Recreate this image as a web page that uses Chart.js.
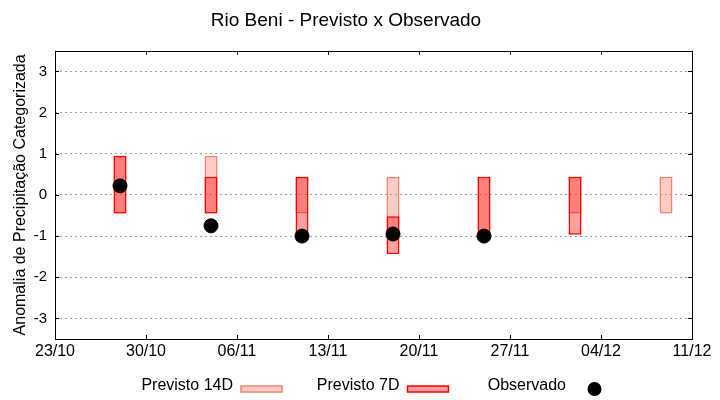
<!DOCTYPE html>
<html>
<head>
<meta charset="utf-8">
<script src="https://cdn.jsdelivr.net/npm/chart.js@4/dist/chart.umd.min.js"></script>
<style>
  body { margin: 0; background: #fff; }
  #wrap { width: 720px; height: 400px; }
</style>
</head>
<body>
<div id="wrap"><canvas id="chuva"></canvas></div>
<script>
const TITLE = 'Rio Beni - Previsto x Observado';
const Y_TITLE = 'Anomalia de Precipitação Categorizada';

const X_TICK_LABELS = ['23/10', '30/10', '06/11', '13/11', '20/11', '27/11', '04/12', '11/12'];
const Y_TICKS = [-3, -2, -1, 0, 1, 2, 3];

const DATES = ['28/10', '04/11', '11/11', '18/11', '25/11', '02/12', '09/12'];
const P14_LOW = [-0.45, -0.45, -0.45, -1, -1, -0.45, -0.45];
const P14_HIGH = [0.95, 0.95, 0.44, 0.44, 0.44, 0.44, 0.44];
const P7_LOW = [-0.45, -0.45, -1, -1.44, -1, -0.97, null];
const P7_HIGH = [0.95, 0.44, 0.44, -0.52, 0.44, 0.44, null];
const OBSERVADO = [0.22, -0.75, -1.0, -0.95, -1.0, null, null];

const FONT = "'Liberation Sans', Arial, sans-serif";
const NARROW = "'Liberation Sans Narrow', 'Liberation Sans', Arial, sans-serif";

// days since the first tick (23/10)
const dayOf = (s) => {
  const [d, m] = s.split('/').map(Number);
  const [d0, m0] = X_TICK_LABELS[0].split('/').map(Number);
  return (Date.UTC(2023, m - 1, d) - Date.UTC(2023, m0 - 1, d0)) / 864e5;
}

const floatBars = (lows, highs) => DATES
  .map((d, i) => lows[i] == null ? null : { x: dayOf(d), y: [lows[i], highs[i]] })
  .filter(p => p);

const points = (vals) => DATES
  .map((d, i) => vals[i] == null ? null : { x: dayOf(d), y: vals[i] })
  .filter(p => p);

// gnuplot style box with inward ticks on all four sides
const framePlugin = {
  id: 'frame',
  afterDatasetsDraw(chart) {
    const { ctx, chartArea: a, scales } = chart;
    const L = 4;
    ctx.save();
    ctx.strokeStyle = '#000';
    ctx.lineWidth = 1;
    ctx.beginPath();
    scales.y.ticks.forEach(t => {
      const y = Math.round(scales.y.getPixelForValue(t.value)) + 0.5;
      ctx.moveTo(a.left, y); ctx.lineTo(a.left + L, y);
      ctx.moveTo(a.right, y); ctx.lineTo(a.right - L, y);
    });
    scales.x.ticks.forEach(t => {
      const x = Math.round(scales.x.getPixelForValue(t.value)) + 0.5;
      ctx.moveTo(x, a.top); ctx.lineTo(x, a.top + L);
      ctx.moveTo(x, a.bottom); ctx.lineTo(x, a.bottom - L);
    });
    ctx.stroke();
    ctx.strokeRect(Math.round(a.left) + 0.5, Math.round(a.top) + 0.5,
      Math.round(a.right - a.left), Math.round(a.bottom - a.top));
    ctx.restore();
  }
}

// key below the plot: text first, sample after it
const keyPlugin = {
  id: 'gnuKey',
  afterDraw(chart) {
    const { ctx, chartArea: a } = chart;
    const items = ['14D', '7D', 'obs'].map(id => chart.data.datasets.find(d => d.id === id));
    const y = a.bottom + 48;
    ctx.save();
    ctx.font = '16px ' + FONT;
    ctx.textAlign = 'right';
    ctx.textBaseline = 'middle';
    items.forEach((ds, i) => {
      const xText = a.left + 178 + i * 166.5;
      ctx.fillStyle = '#000';
      ctx.fillText(ds.label, xText, y - 1);
      const sx = xText + 8;
      if (ds.id === 'obs') {
        ctx.beginPath();
        ctx.arc(sx + 20.5, y + 2, ds.pointRadius, 0, Math.PI * 2);
        ctx.fillStyle = ds.backgroundColor;
        ctx.fill();
      } else {
        ctx.fillStyle = ds.backgroundColor;
        ctx.fillRect(sx, y - 1, 41, 6);
        ctx.strokeStyle = ds.borderColor;
        ctx.lineWidth = 1.5;
        ctx.strokeRect(sx, y - 1, 41, 6);
      }
    });
    ctx.restore();
  }
}

window.addEventListener('DOMContentLoaded', () => {
  new Chart(document.getElementById('chuva'), {
    type: 'bar',
    data: {
      datasets: [
        {
          id: 'obs',
          type: 'scatter',
          label: 'Observado',
          data: points(OBSERVADO),
          backgroundColor: '#000',
          borderColor: '#000',
          pointRadius: 7,
          order: 0
        },
        {
          id: '7D',
          label: 'Previsto 7D',
          data: floatBars(P7_LOW, P7_HIGH),
          backgroundColor: 'rgba(255, 0, 0, 0.375)',
          borderColor: '#ff0000',
          borderWidth: 1.5,
          borderSkipped: false,
          grouped: false,
          categoryPercentage: 1 / 7,
          barPercentage: 1,
          order: 1
        },
        {
          id: '14D',
          label: 'Previsto 14D',
          data: floatBars(P14_LOW, P14_HIGH),
          backgroundColor: 'rgba(250, 128, 114, 0.4)',
          borderColor: '#fa8072',
          borderWidth: 1.5,
          borderSkipped: false,
          grouped: false,
          categoryPercentage: 1 / 7,
          barPercentage: 1,
          order: 2
        }
      ]
    },
    options: {
      responsive: true,
      maintainAspectRatio: false,
      animation: false,
      devicePixelRatio: 1,
      layout: { padding: { left: 0, right: 28, top: 0, bottom: 0 } },
      scales: {
        x: {
          type: 'linear',
          offset: false,
          min: dayOf(X_TICK_LABELS[0]),
          max: dayOf(X_TICK_LABELS[X_TICK_LABELS.length - 1]),
          afterBuildTicks: (scale) => {
            scale.ticks = X_TICK_LABELS.map(l => ({ value: dayOf(l) }));
          },
          afterFit: (scale) => { scale.height = 61; },
          grid: { display: false, drawTicks: false, offset: false },
          border: { display: false },
          ticks: {
            autoSkip: false,
            maxRotation: 0,
            padding: 3,
            color: '#000',
            font: { family: NARROW, size: 16 },
            callback: (v, i) => X_TICK_LABELS[i]
          }
        },
        y: {
          min: -3.5,
          max: 3.5,
          afterBuildTicks: (scale) => {
            scale.ticks = Y_TICKS.map(v => ({ value: v }));
          },
          afterFit: (scale) => { scale.width = 55; },
          grid: {
            color: '#a0a0a0',
            lineWidth: 1,
            drawTicks: false
          },
          border: { display: false, dash: [2, 3] },
          ticks: {
            padding: 8,
            color: '#000',
            font: { family: FONT, size: 15 },
            callback: (v) => String(v)
          },
          title: {
            display: true,
            text: Y_TITLE,
            color: '#000',
            font: { family: FONT, size: 16 },
            padding: { top: 11, bottom: 0 }
          }
        }
      },
      plugins: {
        legend: { display: false },
        tooltip: { enabled: false },
        title: {
          display: true,
          text: TITLE,
          color: '#000',
          font: { family: NARROW, size: 19, weight: 'normal' },
          padding: { top: 9, bottom: 19 }
        }
      }
    },
    plugins: [framePlugin, keyPlugin]
  });
})
</script>
</body>
</html>
